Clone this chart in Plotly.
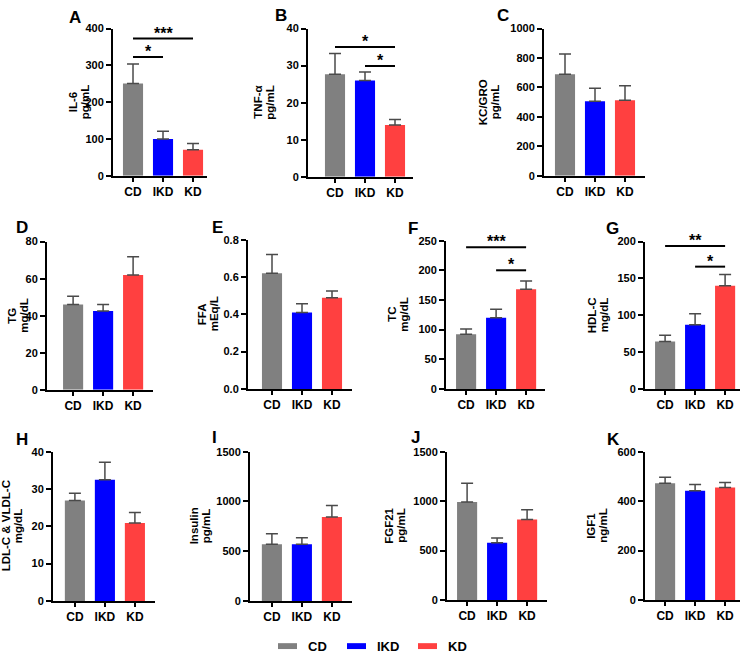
import plotly.graph_objects as go

W, H = 746, 658

# ---------------- data ----------------
groups = ["CD", "IKD", "KD"]
group_colors = ["#808080", "#0000FF", "#FF4040"]

il6_mean = [251, 100, 71]
il6_err = [53, 21, 17]
tnfa_mean = [27.7, 26.0, 14.0]
tnfa_err = [5.6, 2.3, 1.5]
kcgro_mean = [690, 507, 514]
kcgro_err = [137, 87, 98]
tg_mean = [46, 42.5, 62]
tg_err = [4.5, 3.5, 9.8]
ffa_mean = [0.62, 0.41, 0.488]
ffa_err = [0.10, 0.046, 0.037]
tc_mean = [92, 120, 168]
tc_err = [9, 14.5, 14]
hdl_mean = [64.5, 87, 140]
hdl_err = [8.5, 15, 15.5]
ldl_mean = [26.9, 32.5, 20.9]
ldl_err = [2.0, 4.7, 2.8]
insulin_mean = [570, 570, 845]
insulin_err = [105, 65, 115]
fgf21_mean = [990, 580, 815]
fgf21_err = [190, 47, 98]
igf1_mean = [472, 442, 455]
igf1_err = [25, 25, 20]

panel_letters = ["A", "B", "C", "D", "E", "F", "G", "H", "I", "J", "K"]
y_title_names = ["IL-6", "TNF-α", "KC/GRO", "TG", "FFA", "TC", "HDL-C",
                 "LDL-C & VLDL-C", "Insulin", "FGF21", "IGF1"]
y_title_units = ["pg/mL", "pg/mL", "pg/mL", "mg/dL", "mEq/L", "mg/dL", "mg/dL",
                 "mg/dL", "pg/mL", "pg/mL", "ng/mL"]
means = [il6_mean, tnfa_mean, kcgro_mean, tg_mean, ffa_mean, tc_mean,
         hdl_mean, ldl_mean, insulin_mean, fgf21_mean, igf1_mean]
errs = [il6_err, tnfa_err, kcgro_err, tg_err, ffa_err, tc_err,
        hdl_err, ldl_err, insulin_err, fgf21_err, igf1_err]
y_max = [400, 40, 1000, 80, 0.8, 250, 200, 40, 1500, 1500, 600]
y_dtick = [100, 10, 200, 20, 0.2, 50, 50, 10, 500, 500, 200]
y_tickformat = ["", "", "", "", ".1f", "", "", "", "", "", ""]

# significance brackets: (panel index, from group, to group, y level, label)
significance = [
    (0, 0, 1, 323, "*"),
    (0, 0, 2, 373, "***"),
    (1, 0, 2, 35.0, "*"),
    (1, 1, 2, 29.9, "*"),
    (5, 0, 2, 239, "***"),
    (5, 1, 2, 200, "*"),
    (6, 0, 2, 194, "**"),
    (6, 1, 2, 166, "*"),
]

# ---------------- layout geometry (pixels) ----------------
# (axis left, axis right, top, bottom, x-range start)
boxes = [
    (113, 207, 23, 173, -0.667),
    (308, 413, 23, 174, -0.9),
    (544, 645, 23, 173, -0.7),
    (47, 153, 240, 391, -0.87),
    (248, 352, 238, 390, -0.8),
    (446, 545, 239, 390, -0.67),
    (645, 740, 240, 390, -0.67),
    (53, 155, 454, 606, -0.73),
    (250, 352, 454, 606, -0.73),
    (447, 547, 454, 605, -0.67),
    (645, 740, 454, 605, -0.67),
]
title_x = [79, 264, 489, 18, 208, 398, 598, 12, 200, 395, 597]
letter_pos = [(75, 12), (281, 10), (503, 10), (22, 226), (217, 226), (413, 227),
              (612, 227), (22, 442), (214, 440), (415, 440), (613, 442)]

FONT = "Arial, Liberation Sans, sans-serif"


def px(x):
    return x / W


def py(y):
    return 1 - y / H


fig = go.Figure()
layout = dict(
    width=W, height=H, margin=dict(l=0, r=0, t=0, b=0),
    paper_bgcolor="white", plot_bgcolor="white", showlegend=False,
    bargap=0.33, font=dict(family=FONT, color="black"),
)
annotations = []
shapes = []

for p in range(len(means)):
    sfx = "" if p == 0 else str(p + 1)
    xl, xr, yt, yb, xlo = boxes[p]
    xhi = xlo + (xr - xl) / 30.0
    for g in range(3):
        fig.add_trace(go.Bar(
            x=[g], y=[means[p][g]], width=0.67,
            marker=dict(color=group_colors[g], line=dict(width=0)),
            error_y=dict(type="data", array=[errs[p][g]], arrayminus=[0],
                         symmetric=False, color="#4a4a4a", thickness=1.5, width=6),
            xaxis="x" + sfx, yaxis="y" + sfx, name=groups[g],
        ))
    layout["xaxis" + sfx] = dict(
        domain=[px(xl), px(xr)], anchor="y" + sfx, range=[xlo, xhi],
        tickmode="array", tickvals=[0, 1, 2], ticktext=groups,
        showline=True, linecolor="black", linewidth=2,
        ticks="outside", ticklen=4, tickwidth=2, tickcolor="black",
        showgrid=False, zeroline=False, fixedrange=True,
        tickfont=dict(family=FONT, size=12, color="black", weight="bold"),
    )
    layout["yaxis" + sfx] = dict(
        domain=[py(yb), py(yt)], anchor="x" + sfx, range=[0, y_max[p]],
        dtick=y_dtick[p], tick0=0, tickformat=y_tickformat[p],
        showline=True, linecolor="black", linewidth=2,
        ticks="outside", ticklen=5, tickwidth=2, tickcolor="black",
        showgrid=False, zeroline=False, fixedrange=True,
        tickfont=dict(family=FONT, size=11, color="black", weight="bold"),
    )
    # y title: two lines, each its own annotation
    for k, txt in enumerate([y_title_names[p], y_title_units[p]]):
        annotations.append(dict(
            x=px(title_x[p] - 6 + 12 * k), y=py((yt + yb) / 2),
            xref="paper", yref="paper",
            text=txt, textangle=-90, showarrow=False,
            xanchor="center", yanchor="middle",
            font=dict(family=FONT, size=11.5, color="black", weight="bold"),
        ))
    # panel letter
    lx, ly = letter_pos[p]
    annotations.append(dict(
        x=px(lx), y=py(ly), xref="paper", yref="paper", text=panel_letters[p],
        showarrow=False, xanchor="center", yanchor="middle",
        font=dict(family=FONT, size=17, color="black", weight="bold"),
    ))

for (p, g0, g1, yv, lab) in significance:
    sfx = "" if p == 0 else str(p + 1)
    shapes.append(dict(
        type="line", xref="x" + sfx, yref="y" + sfx,
        x0=g0, x1=g1, y0=yv, y1=yv, line=dict(color="black", width=2),
    ))
    annotations.append(dict(
        x=(g0 + g1) / 2, y=yv, xref="x" + sfx, yref="y" + sfx, text=lab,
        showarrow=False, xanchor="center", yanchor="bottom", yshift=-5,
        font=dict(family=FONT, size=16, color="black", weight="bold"),
    ))

# legend (custom wide swatches)
legend_swatch_x = [278, 347, 418]
for g in range(3):
    x0 = legend_swatch_x[g]
    shapes.append(dict(
        type="rect", xref="paper", yref="paper",
        x0=px(x0), x1=px(x0 + 19), y0=py(655), y1=py(649),
        fillcolor=group_colors[g], line=dict(width=0),
    ))
    annotations.append(dict(
        x=px(x0 + 28), y=py(652), xref="paper", yref="paper", text=groups[g],
        showarrow=False, xanchor="left", yanchor="middle",
        font=dict(family=FONT, size=13, color="black", weight="bold"),
    ))

layout["annotations"] = annotations
layout["shapes"] = shapes
fig.update_layout(**layout)
fig.write_html(
    "out.html",
    config={"displayModeBar": False},
    post_script="document.body.style.margin='0';document.body.style.overflow='hidden';",
)
